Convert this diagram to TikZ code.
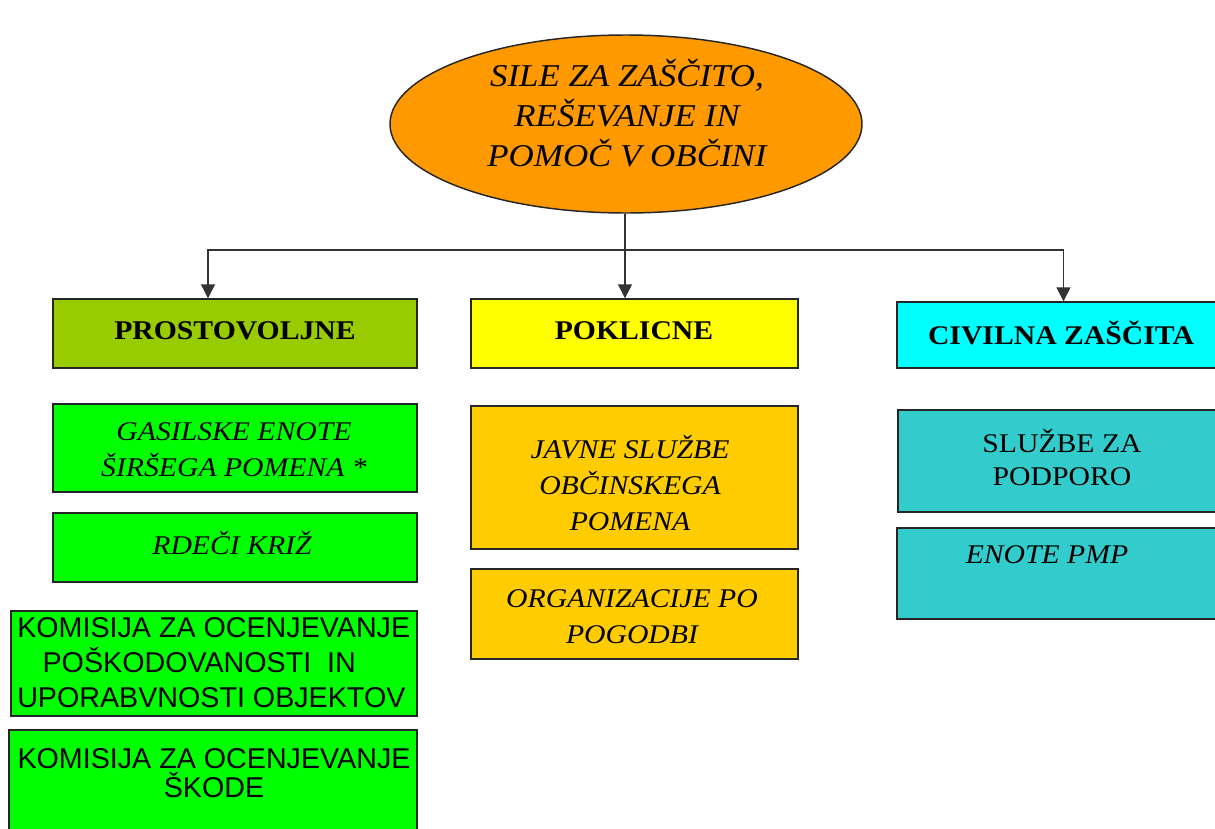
\documentclass[tikz,border=0pt]{standalone}
\usepackage{fontspec}
\setmainfont{Liberation Serif}[FakeStretch=1.1]
\newfontfamily\komsans{Liberation Sans}
\usetikzlibrary{shapes.geometric,arrows.meta,fit}
\definecolor{orangeE}{HTML}{FF9900}
\definecolor{oliveG}{HTML}{99CC00}
\definecolor{yelB}{HTML}{FFFF00}
\definecolor{cyanB}{HTML}{00FFFF}
\definecolor{greenB}{HTML}{00FF00}
\definecolor{goldB}{HTML}{FFCC00}
\definecolor{tealB}{HTML}{33CCCC}
\tikzset{
  box/.style={draw=black!85, line width=1.1pt, inner sep=0pt},
  txt/.style={inner sep=0pt, align=center, font=\fontsize{20.25}{27}\selectfont\itshape},
  hdr/.style={inner sep=0pt, align=center, font=\fontsize{20.25}{27}\selectfont\bfseries},
  sanstxt/.style={inner sep=0pt, font=\fontsize{21.5}{26.25}\selectfont\komsans},
  arr/.style={draw=black!80, line width=1.1pt, -{Triangle[length=10.5pt,width=10.5pt]}}
}
\begin{document}
\begin{tikzpicture}[x=0.75pt,y=-0.75pt]
\useasboundingbox (0,0) rectangle (1215,829);
\clip (0,0) rectangle (1215,829);
% top ellipse
\node[ellipse, draw=black!85, line width=1.1pt, fill=orangeE, minimum width=354pt, minimum height=133.5pt, inner sep=0pt] (top) at (626,124) {};
\node[inner sep=0pt, align=center, font=\fontsize{23.8}{30}\selectfont\itshape] (toptxt) at (627,113) {SILE ZA ZAŠČITO,\\REŠEVANJE IN\\POMOČ V OBČINI};
% header boxes
\node[box, fill=oliveG, fit={(53,299) (417,368)}] (bPro) {};
\node[box, fill=yelB, fit={(471,299) (798,368)}] (bPok) {};
\node[box, fill=cyanB, fit={(897,302) (1230,368)}] (bCiv) {};
\node[hdr] (hPro) at (235,331) {PROSTOVOLJNE};
\node[hdr] (hPok) at (634,331) {POKLICNE};
\node[hdr] (hCiv) at (1061,333) {CIVILNA ZAŠČITA};
% left column
\node[box, fill=greenB, fit={(53,404) (417,492)}] (bGas) {};
\node[txt] (tGas) at (234,450) {GASILSKE ENOTE\\ŠIRŠEGA POMENA *};
\node[box, fill=greenB, fit={(53,513) (417,582)}] (bRdk) {};
\node[txt] (tRdk) at (232,543) {RDEČI KRIŽ};
\node[box, fill=greenB, fit={(11,611) (417,716)}] (bK1) {};
\node[sanstxt, align=left, anchor=west] (tK1) at (17,663) {KOMISIJA ZA OCENJEVANJE\\\hspace{19pt}POŠKODOVANOSTI\ \ IN\\UPORABVNOSTI OBJEKTOV};
\node[box, fill=greenB, fit={(9,730) (417,845)}] (bK2) {};
\node[sanstxt, align=center, font=\fontsize{21.5}{21.75}\selectfont\komsans] (tK2) at (214,773) {KOMISIJA ZA OCENJEVANJE\\ŠKODE};
% middle column
\node[box, fill=goldB, fit={(471,406) (798,549)}] (bJav) {};
\node[txt] (tJav) at (630,483) {JAVNE SLUŽBE\\OBČINSKEGA\\POMENA};
\node[box, fill=goldB, fit={(471,569) (798,659)}] (bOrg) {};
\node[txt] (tOrg) at (632,617) {ORGANIZACIJE PO\\POGODBI};
% right column
\node[box, fill=tealB, fit={(898,410) (1230,512)}] (bSlu) {};
\node[txt, font=\fontsize{20.25}{24.75}\selectfont] (tSlu) at (1062,458) {SLUŽBE ZA\\PODPORO};
\node[box, fill=tealB, fit={(897,528) (1230,619)}] (bPmp) {};
\node[txt] (tPmp) at (1047,555) {ENOTE PMP};
% connectors
\coordinate (j) at (625,250);
\draw[arr] (top.south -| j) -- (j |- bPok.north);
\draw[arr] (j) -| ([xshift=-20.25pt]bPro.north);
\draw[arr] (j) -| (bCiv.north);
\end{tikzpicture}
\end{document}
